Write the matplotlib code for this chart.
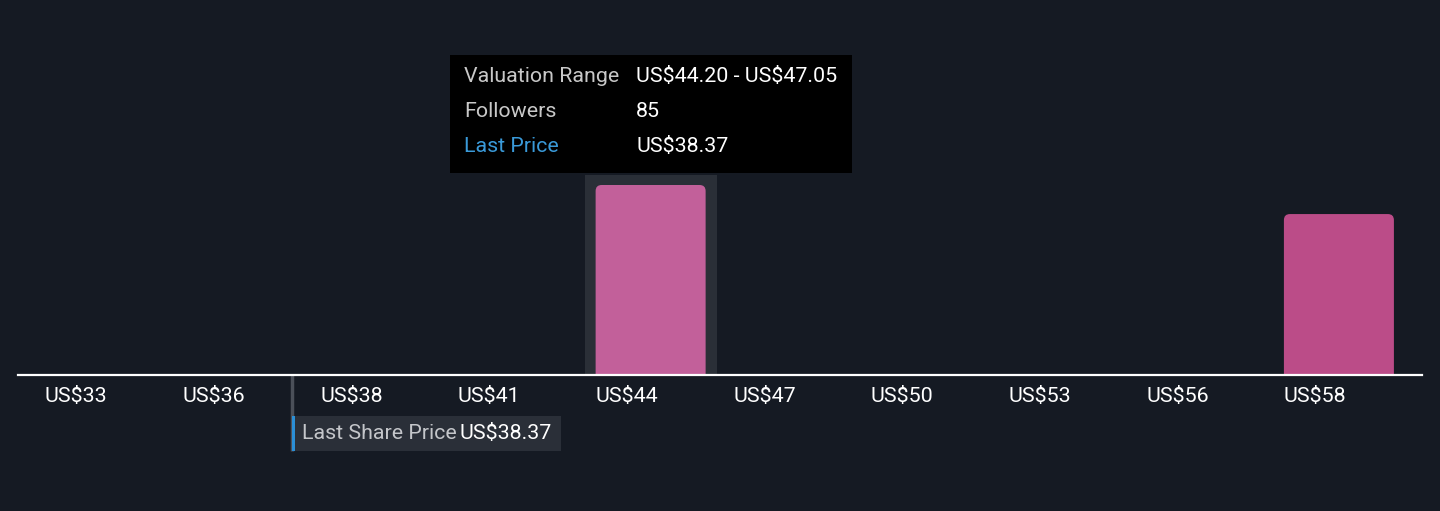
import matplotlib
matplotlib.use("Agg")
import matplotlib.pyplot as plt
from matplotlib.patches import Rectangle, FancyBboxPatch
from matplotlib.transforms import blended_transform_factory

plt.rcParams['font.family'] = ['Roboto', 'DejaVu Sans']
plt.rcParams['text.parse_math'] = False

# Data
bin_start = 32.8
bin_step = 2.85
tick_labels = ['US$33', 'US$36', 'US$38', 'US$41', 'US$44',
               'US$47', 'US$50', 'US$53', 'US$56', 'US$58']
followers = [0, 0, 0, 0, 85, 0, 0, 0, 0, 72]
bar_colors = ['#c2609a'] * 4 + ['#c2609a'] + ['#bb4c88'] * 5
hover_index = 4
last_price = 38.37

# Colours
bg = '#151a23'
W, H = 1440, 511
fs = 15.4

fig = plt.figure(figsize=(W / 100, H / 100), dpi=100, facecolor=bg)
# axis spans x 18..1422 px, baseline at y=375 px
ax = fig.add_axes([18 / W, (H - 375) / H, 1404 / W, 375 / H])
ax.set_facecolor(bg)
for s in ax.spines.values():
    s.set_visible(False)
ax.set_xticks([])
ax.set_yticks([])

n = len(followers)
pad = 0.5956
x_lo, x_hi = -pad, n - 1 + pad + 0.008
ax.set_xlim(x_lo, x_hi)
y_top = 85 * 375 / 190
ax.set_ylim(0, y_top)

# band geometry
px_per_x = 1404 / (x_hi - x_lo)
px_per_y = 375 / y_top
bar_w = 110 / px_per_x

# hover highlight
blend = blended_transform_factory(ax.transData, ax.transAxes)
ax.add_patch(Rectangle((hover_index - 66 / px_per_x, 0), 132 / px_per_x, 200 / 375,
                       transform=blend, facecolor='#2a2f37', edgecolor='none', zorder=1))

# bars with rounded tops
aspect = px_per_x / px_per_y
r = 6 / px_per_x
for i, v in enumerate(followers):
    if v <= 0:
        continue
    low = -10 / px_per_y
    p = FancyBboxPatch((i - bar_w / 2, low), bar_w, v - low,
                       boxstyle=f"round,pad=0,rounding_size={r}",
                       mutation_aspect=aspect, facecolor=bar_colors[i],
                       edgecolor='none', zorder=2)
    ax.add_patch(p)

# baseline
ax.axhline(0, color='white', lw=1.6, zorder=3, clip_on=False)

# tick labels, left aligned with bar left edge
for i, lab in enumerate(tick_labels):
    ax.text(i - bar_w / 2, -21.5 / 375, lab, transform=blend, ha='left', va='center',
            color='white', fontsize=fs, clip_on=False)

# last price marker on linear scale across full axis width
frac = (last_price - bin_start) / (bin_step * n)
xp = x_lo + frac * (x_hi - x_lo)
ax.plot([xp, xp], [0, -76 / 375], transform=blend, color='#4b5059', lw=2.5,
        clip_on=False, zorder=2, solid_capstyle='butt')

# last share price label box
fig.add_artist(Rectangle((292 / W, (H - 451) / H), 269 / W, 35 / H,
                         transform=fig.transFigure, facecolor='#2a2f38',
                         edgecolor='none'))
fig.add_artist(Rectangle((292 / W, (H - 451) / H), 3 / W, 35 / H,
                         transform=fig.transFigure, facecolor='#2b8fd6',
                         edgecolor='none'))
fig.text(302 / W, (H - 433) / H, 'Last Share Price', color='#c4c6ca',
         fontsize=fs, ha='left', va='center')
fig.text(460 / W, (H - 433) / H, f'US${last_price:.2f}', color='white',
         fontsize=fs, ha='left', va='center')

# tooltip
lo_val = bin_start + hover_index * bin_step
hi_val = lo_val + bin_step
fig.add_artist(Rectangle((450 / W, (H - 173) / H), 402 / W, 118 / H,
                         transform=fig.transFigure, facecolor='black',
                         edgecolor='none'))
rows = [('Valuation Range', f'US${lo_val:.2f} - US${hi_val:.2f}', '#c8c8c8'),
        ('Followers', f'{followers[hover_index]}', '#c8c8c8'),
        ('Last Price', f'US${last_price:.2f}', '#3a9ad9')]
for k, (lab, val, col) in enumerate(rows):
    yy = (H - (76 + 35 * k)) / H
    fig.text(464 / W, yy, lab, color=col, fontsize=fs, ha='left', va='center')
    fig.text(636 / W, yy, val, color='white', fontsize=fs, ha='left', va='center')

fig.savefig('out.png', dpi=100, facecolor=bg)
